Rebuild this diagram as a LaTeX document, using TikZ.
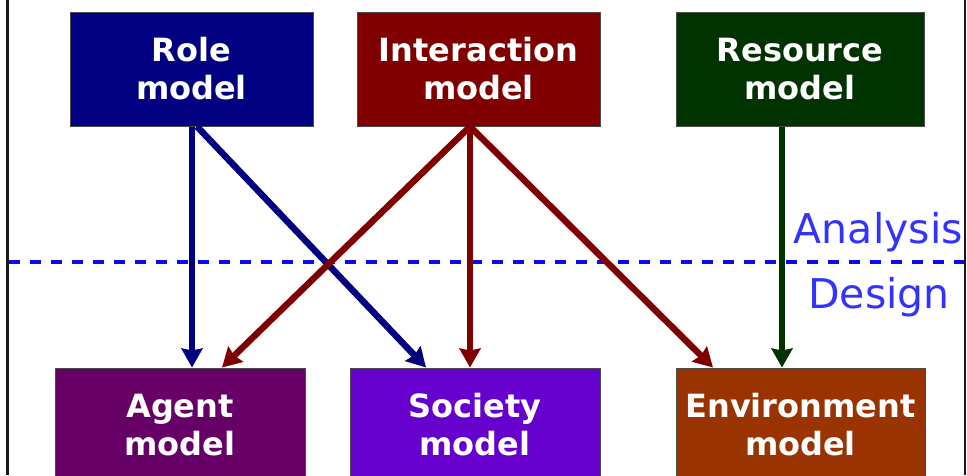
\documentclass[tikz,border=0pt]{standalone}
\usepackage{fontspec}
\setmainfont{DejaVu Sans}
\usetikzlibrary{arrows.meta}
\definecolor{rolec}{HTML}{000080}
\definecolor{interc}{HTML}{800000}
\definecolor{resc}{HTML}{003300}
\definecolor{agentc}{HTML}{660066}
\definecolor{socc}{HTML}{6600CC}
\definecolor{envc}{HTML}{993300}
\definecolor{phasec}{HTML}{3333FF}
\definecolor{dashc}{HTML}{0A0AF5}
\tikzset{
  modelbox/.style={draw=black!70, line width=1pt, minimum height=114pt, inner sep=0pt,
    text=white, align=center, font=\fontsize{32}{38}\selectfont\bfseries},
  flow/.style={line width=6.5pt, -{Stealth[length=19pt,width=21pt,inset=2pt]}},
  phase/.style={text=phasec, font=\fontsize{41}{48}\selectfont, inner sep=0pt},
  frameline/.style={line width=2.5pt, draw=black!90}
}
\begin{document}
\begin{tikzpicture}[x=1pt,y=-1pt]
\useasboundingbox (0,0) rectangle (967,475);
\clip (0,0) rectangle (967,475);
\fill[white] (0,0) rectangle (967,475);
% frame
\coordinate (fl1) at (7.5,0); \coordinate (fl2) at (7.5,475);
\coordinate (fr1) at (965,0); \coordinate (fr2) at (965,475);
\draw[frameline] (fl1) -- (fl2);
\draw[frameline] (fr1) -- (fr2);
% dashed separator
\coordinate (d1) at (9,262); \coordinate (d2) at (964,262);
\draw[dashc, line width=3.5pt, dash pattern=on 11pt off 10pt] (d1) -- (d2);
\node[phase, anchor=base east] (analysis) at (963,243) {Analysis};
\node[phase, anchor=base east] (design) at (950,308) {Design};
% boxes
\node[modelbox, fill=rolec, minimum width=243pt] (role) at (191.5,69) {Role\\model};
\node[modelbox, fill=interc, minimum width=243pt] (inter) at (478.5,69) {Interaction\\model};
\node[modelbox, fill=resc, minimum width=248pt] (res) at (800,69) {Resource\\model};
\node[modelbox, fill=agentc, minimum width=250pt] (agent) at (180,425) {Agent\\model};
\node[modelbox, fill=socc, minimum width=250pt] (soc) at (475,425) {Society\\model};
\node[modelbox, fill=envc, minimum width=249pt] (env) at (800.5,425) {Environment\\model};
% arrows
\draw[flow, rolec] ([xshift=0.5pt]role.south) -- ([xshift=12pt]agent.north);
\draw[flow, rolec] ([xshift=5.5pt]role.south) -- ([xshift=-49pt]soc.north);
\draw[flow, interc] ([xshift=-8.5pt]inter.south) -- ([xshift=42pt]agent.north);
\draw[flow, interc] ([xshift=-8.5pt]inter.south) -- ([xshift=-5pt]soc.north);
\draw[flow, interc] ([xshift=-8.5pt]inter.south) -- ([xshift=-87.5pt]env.north);
\draw[flow, resc] ([xshift=-18pt]res.south) -- ([xshift=-18.5pt]env.north);
\end{tikzpicture}
\end{document}
